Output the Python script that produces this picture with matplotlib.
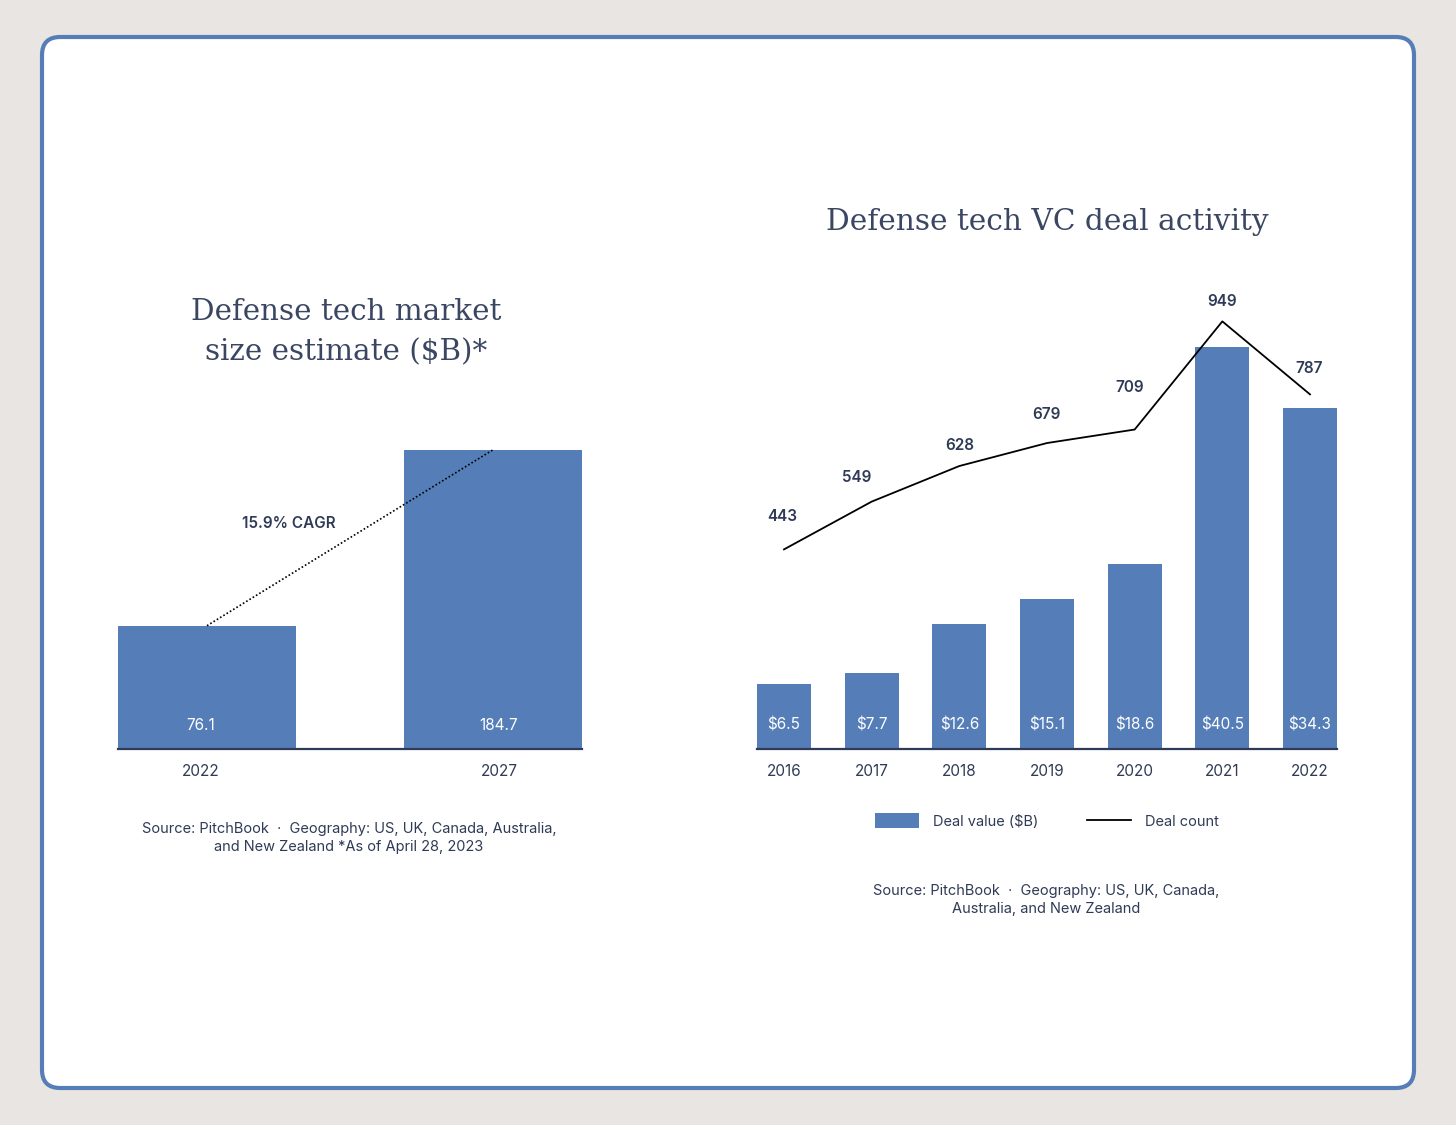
import matplotlib
matplotlib.use("Agg")
import matplotlib.pyplot as plt
import matplotlib.transforms as mtransforms
from matplotlib.patches import FancyBboxPatch, Patch
from matplotlib.lines import Line2D

# ---------------- data ----------------
market_years = ["2022", "2027"]
market_size = [76.1, 184.7]
cagr_label = "15.9% CAGR"

deal_years = ["2016", "2017", "2018", "2019", "2020", "2021", "2022"]
deal_value = [6.5, 7.7, 12.6, 15.1, 18.6, 40.5, 34.3]
deal_count = [443, 549, 628, 679, 709, 949, 787]
# label offsets (pixels) for the count labels
count_offsets = [(-2, 33), (-15, 24), (0, 21), (-1, 29), (-5, 42), (0, 20), (-1, 26)]

# ---------------- style ----------------
BG = "#E9E5E3"
BLUE = "#557EB8"
DARK = "#2F3B56"
TITLE = "#3A4662"
SANS = ["Inter", "DejaVu Sans"]
SERIF = ["DejaVu Serif"]

W, H = 1456, 1125
fig = plt.figure(figsize=(W / 100, H / 100), dpi=100, facecolor=BG)

# card
card = FancyBboxPatch((42 / W, 1 - 1088 / H), (1414 - 42) / W, (1088 - 37) / H,
                      boxstyle="round,pad=0,rounding_size=0.0125",
                      mutation_aspect=W / H, transform=fig.transFigure,
                      facecolor="white", edgecolor=BLUE, linewidth=3.0, zorder=-10)
fig.patches.append(card)


def px_axes(x0, x1, ytop, ybot):
    return fig.add_axes([x0 / W, 1 - ybot / H, (x1 - x0) / W, (ybot - ytop) / H])


def style_axes(ax):
    for s in ["top", "right", "left"]:
        ax.spines[s].set_visible(False)
    ax.spines["bottom"].set_color(DARK)
    ax.spines["bottom"].set_linewidth(1.6)
    ax.set_yticks([])
    ax.tick_params(axis="x", length=0, pad=11, labelsize=11, labelcolor=DARK)
    for lab in ax.get_xticklabels():
        lab.set_family(SANS)
    ax.patch.set_alpha(0)


# ---------------- left chart ----------------
axL = px_axes(118, 582, 425, 749)
xL = list(range(len(market_years)))
axL.bar(xL, market_size, width=0.622, color=BLUE, zorder=2)
axL.set_xlim(-0.311, 1.311)
axL.set_ylim(0, 200)
axL.set_xticks(xL)
axL.set_xticklabels(market_years)
style_axes(axL)
for i, lab in enumerate(axL.get_xticklabels()):
    shift = -6 if i == 0 else 6
    lab.set_transform(lab.get_transform() +
                      mtransforms.ScaledTranslation(shift / 100, 0, fig.dpi_scale_trans))
for x, v in zip(xL, market_size):
    axL.annotate(f"{v}", (x, 0), xytext=(-6 if x == 0 else 6, 24), textcoords="offset pixels",
                 ha="center", va="center", color="white", fontsize=11, family=SANS)
axL.plot(xL, market_size, color="black", linestyle=(0, (1, 1.3)), linewidth=1.2, zorder=3)
axL.text(0.287, 139, cagr_label, ha="center", va="center", fontsize=11,
         fontweight="semibold", color=DARK, family=SANS)

for line, base in [("Defense tech market", 320), ("size estimate ($B)*", 360)]:
    fig.text(346 / W, 1 - base / H, line, ha="center", va="baseline",
             fontsize=21.2, color=TITLE, family=SERIF)
fig.text(349 / W, 1 - 838 / H,
         "Source: PitchBook  ·  Geography: US, UK, Canada, Australia,\nand New Zealand *As of April 28, 2023",
         ha="center", va="center", fontsize=10.5, color=DARK, family=SANS, linespacing=1.35)

# ---------------- right chart ----------------
axR = px_axes(757, 1337, 302, 749)
xR = list(range(len(deal_years)))
axR.bar(xR, deal_value, width=0.616, color=BLUE, zorder=2)
axR.set_xlim(-0.308, 6.308)
axR.set_ylim(0, 45)
axR.set_xticks(xR)
axR.set_xticklabels(deal_years)
style_axes(axR)
for x, v in zip(xR, deal_value):
    axR.annotate(f"${v}", (x, 0), xytext=(0, 24), textcoords="offset pixels",
                 ha="center", va="center", color="white", fontsize=11, family=SANS)

axR2 = axR.twinx()
axR2.set_ylim(0, 992)
axR2.axis("off")
axR2.plot(xR, deal_count, color="black", linewidth=1.3, zorder=4)
for x, v, (dx, dy) in zip(xR, deal_count, count_offsets):
    axR2.annotate(f"{v}", (x, v), xytext=(dx, dy), textcoords="offset pixels",
                  ha="center", va="center", color=DARK, fontsize=11,
                  fontweight="semibold", family=SANS)

fig.text(1047 / W, 1 - 222 / H, "Defense tech VC deal activity",
         ha="center", va="center", fontsize=21.3, color=TITLE, family=SERIF)

handles = [Patch(facecolor=BLUE, edgecolor="none", label="Deal value ($B)"),
           Line2D([0], [0], color="black", linewidth=1.3, label="Deal count")]
leg = fig.legend(handles=handles, loc="center", bbox_to_anchor=(1047 / W, 1 - 821 / H),
                 ncol=2, frameon=False, handlelength=3.0, handleheight=1.2,
                 handletextpad=1.0, columnspacing=3.3,
                 prop={"family": SANS, "size": 10.5})
for t in leg.get_texts():
    t.set_color(DARK)

fig.text(1046 / W, 1 - 900 / H,
         "Source: PitchBook  ·  Geography: US, UK, Canada,\nAustralia, and New Zealand",
         ha="center", va="center", fontsize=10.5, color=DARK, family=SANS, linespacing=1.35)

fig.savefig("out.png", dpi=100, facecolor=BG)
